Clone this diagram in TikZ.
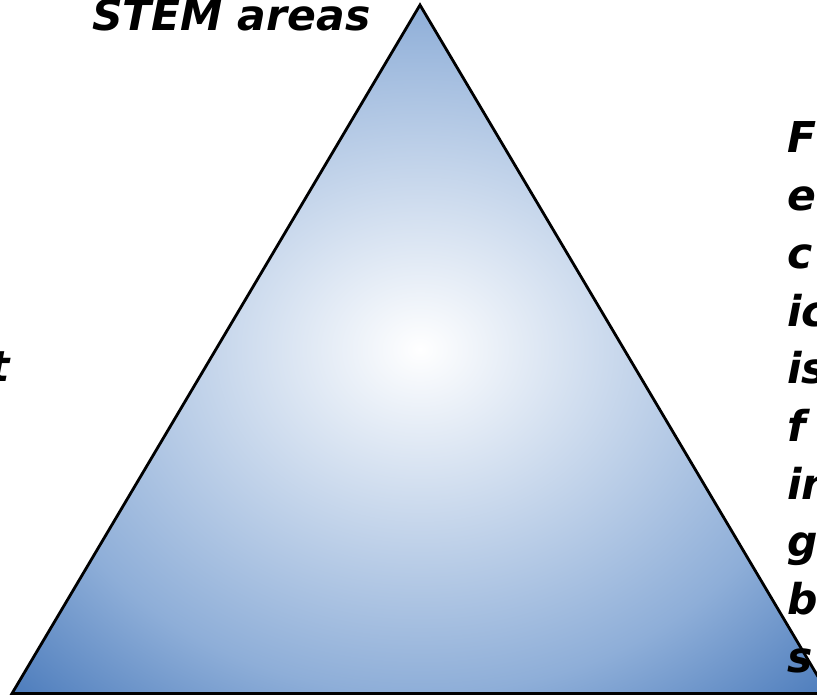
\documentclass[tikz,border=0pt]{standalone}
\usepackage{fontspec}
\setmainfont{DejaVu Sans}
\usepackage{tikz}

\definecolor{azulclaro}{RGB}{142,174,216}
\definecolor{azulescuro}{RGB}{79,126,189}
\pgfdeclareradialshading{brilho}{\pgfpointorigin}{%
  color(0bp)=(white); color(25bp)=(azulclaro);
  color(35bp)=(azulescuro); color(50bp)=(azulescuro)}

\begin{document}
\begin{tikzpicture}[
        x=1pt, y=1pt,
        triangulo/.style={draw=black, line width=2.8pt, line join=miter, shading=brilho},
        texto/.style={inner sep=0pt, font=\fontsize{42.5}{57.7}\selectfont\bfseries\itshape},
    ]
        \useasboundingbox (0,0) rectangle (817,695);

        % ==================================================
        % TRIÂNGULO
        % ==================================================

        \coordinate (topo) at (420,690);
        \coordinate (esq)  at (12,1.5);
        \coordinate (dir)  at (828,1.5);

        \draw[triangulo] (esq) -- (topo) -- (dir) -- cycle;

        % ==================================================
        % TEXTOS
        % ==================================================

        \node[texto, anchor=base west] (stem) at (92,664) {STEM areas};

        % Lado esquerdo
        \node[texto, anchor=base east] (t1) at (10,313) {t};

        % Lado direito
        \node[texto, anchor=base west] (d1)  at (787,542.0) {F};
        \node[texto, anchor=base west] (d2)  at (787,484.3) {e};
        \node[texto, anchor=base west] (d3)  at (787,426.6) {c};
        \node[texto, anchor=base west] (d4)  at (787,368.9) {ic};
        \node[texto, anchor=base west] (d5)  at (787,311.2) {is};
        \node[texto, anchor=base west] (d6)  at (787,253.5) {f};
        \node[texto, anchor=base west] (d7)  at (787,195.8) {in};
        \node[texto, anchor=base west] (d8)  at (787,138.1) {g};
        \node[texto, anchor=base west] (d9)  at (787,80.4)  {b};
        \node[texto, anchor=base west] (d10) at (787,22.7)  {s};
    \end{tikzpicture}
\end{document}
